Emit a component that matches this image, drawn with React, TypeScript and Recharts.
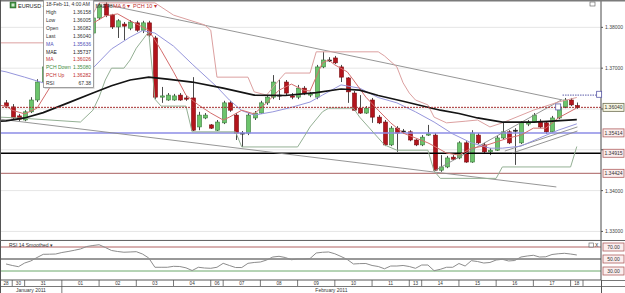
import {
  ComposedChart,
  Bar,
  Line,
  XAxis,
  YAxis,
  CartesianGrid,
  ReferenceLine,
  ReferenceDot,
} from "recharts";

// EURUSD 4H candles, 28 Jan - 18 Feb 2011
const opens = [
  1.3615, 1.3605, 1.3583, 1.3573, 1.3593, 1.3622, 1.3666, 1.37, 1.3688, 1.3725,
  1.3744, 1.3732, 1.3769, 1.3798, 1.3786, 1.3823, 1.3857, 1.383, 1.3801, 1.3808,
  1.3798, 1.3811, 1.3793, 1.3811, 1.3774, 1.3629, 1.3622, 1.3622, 1.3634, 1.3627,
  1.3627, 1.3556, 1.3578, 1.3561, 1.3548, 1.3566, 1.3615, 1.3585, 1.3541, 1.3541,
  1.3578, 1.359, 1.3615, 1.3629, 1.3632, 1.3666, 1.3632, 1.3629, 1.3651, 1.3634,
  1.3629, 1.3703, 1.372, 1.3725, 1.3703, 1.3676, 1.3639, 1.3602, 1.359, 1.3622,
  1.358, 1.3568, 1.3512, 1.3553, 1.3544, 1.3544, 1.3524, 1.3512, 1.3536, 1.3536,
  1.345, 1.3458, 1.3482, 1.348, 1.3517, 1.347, 1.3536, 1.3512, 1.3495, 1.3499,
  1.3529, 1.3544, 1.3548, 1.3517, 1.3563, 1.3568, 1.357, 1.3566, 1.3544, 1.3578,
  1.3605, 1.3622, 1.36082,
];
const highs = [
  1.3622, 1.3612, 1.3588, 1.3597, 1.3629, 1.3673, 1.3713, 1.371, 1.3732, 1.3754,
  1.3752, 1.3779, 1.3808, 1.3806, 1.3833, 1.386, 1.3862, 1.3833, 1.382, 1.3813,
  1.3818, 1.3816, 1.3816, 1.3816, 1.3779, 1.3654, 1.3639, 1.3637, 1.3639, 1.3634,
  1.3678, 1.3593, 1.359, 1.3563, 1.3573, 1.362, 1.362, 1.359, 1.3546, 1.359,
  1.3595, 1.362, 1.3634, 1.3683, 1.3671, 1.3671, 1.3639, 1.3659, 1.3656, 1.3642,
  1.3708, 1.374, 1.3727, 1.373, 1.3708, 1.3678, 1.3644, 1.3634, 1.3607, 1.3627,
  1.3585, 1.3573, 1.3558, 1.3558, 1.3551, 1.3548, 1.3526, 1.3536, 1.3561, 1.3541,
  1.3487, 1.3485, 1.3487, 1.3521, 1.3521, 1.3548, 1.3541, 1.3517, 1.3504, 1.3534,
  1.3568, 1.3548, 1.3553, 1.357, 1.3573, 1.359, 1.3575, 1.357, 1.3583, 1.361,
  1.3627, 1.3627, 1.36158,
];
const lows = [
  1.3602, 1.3575, 1.357, 1.357, 1.359, 1.3617, 1.3659, 1.3681, 1.3683, 1.372,
  1.3725, 1.3727, 1.3764, 1.3781, 1.3781, 1.3818, 1.3825, 1.3796, 1.3774, 1.3769,
  1.3793, 1.3789, 1.3786, 1.3776, 1.3624, 1.3615, 1.362, 1.362, 1.362, 1.362,
  1.3546, 1.3548, 1.3575, 1.3551, 1.3546, 1.3563, 1.3593, 1.3524, 1.3507, 1.3536,
  1.3573, 1.3588, 1.361, 1.3624, 1.3622, 1.3634, 1.3624, 1.3624, 1.3634, 1.3629,
  1.3624, 1.37, 1.3715, 1.371, 1.3666, 1.3615, 1.3595, 1.3588, 1.3588, 1.3566,
  1.3563, 1.3509, 1.3509, 1.3495, 1.3539, 1.3521, 1.3509, 1.3509, 1.3534, 1.3448,
  1.3446, 1.3455, 1.3475, 1.3477, 1.3468, 1.3468, 1.3514, 1.3492, 1.3487, 1.3497,
  1.3526, 1.3514, 1.3463, 1.3514, 1.3558, 1.3566, 1.3553, 1.3539, 1.3541, 1.3575,
  1.3602, 1.3607, 1.36005,
];
const closes = [
  1.3607, 1.3578, 1.3575, 1.3593, 1.3622, 1.3666, 1.3703, 1.3688, 1.3725, 1.3744,
  1.3732, 1.3769, 1.3798, 1.3786, 1.3823, 1.3855, 1.383, 1.3801, 1.3816, 1.3803,
  1.3813, 1.3793, 1.3811, 1.3781, 1.3629, 1.3632, 1.3634, 1.3632, 1.3622, 1.3624,
  1.3548, 1.3585, 1.3585, 1.3553, 1.3568, 1.3615, 1.3597, 1.3541, 1.3539, 1.3585,
  1.359, 1.3615, 1.3629, 1.3666, 1.3634, 1.3639, 1.3629, 1.3651, 1.3639, 1.3637,
  1.3703, 1.372, 1.3718, 1.3713, 1.3678, 1.3642, 1.3597, 1.359, 1.3602, 1.358,
  1.3566, 1.3512, 1.3553, 1.3541, 1.3546, 1.3524, 1.3512, 1.3531, 1.3539, 1.345,
  1.3458, 1.348, 1.3477, 1.3517, 1.347, 1.3541, 1.3517, 1.3495, 1.3499, 1.3529,
  1.3544, 1.3517, 1.3546, 1.3566, 1.3568, 1.3585, 1.3556, 1.3544, 1.3578, 1.3605,
  1.3622, 1.361, 1.3604,
];

// RSI 14 smoothed, one value per candle
const rsiSmoothed = [
  41.7, 39.2, 37.2, 43.3, 46.7, 52.5, 57.8, 58, 58.3, 60.8,
  62.5, 64.5, 66.7, 70.8, 72.5, 73.8, 69.2, 64.2, 62.5, 61.3,
  61.7, 62.2, 58.3, 51.7, 36.2, 36.2, 36.2, 37.8, 37.5, 35.3,
  30.8, 36.2, 35, 34.5, 36.2, 42.8, 39.2, 35.8, 35.8, 42.8,
  44.2, 45, 48.3, 53.3, 54.5, 52.5, 48.8, 50, 50, 50.8,
  60, 61.2, 61.7, 58.7, 54.2, 49.2, 41.7, 42.3, 42.5, 39.2,
  37.5, 33.7, 38.3, 38.3, 39.2, 37.5, 34.5, 40, 40, 30.5,
  32.8, 36.2, 36.2, 42.5, 38.3, 47.2, 45.8, 43.3, 44.2, 48.3,
  49.5, 46.7, 47.5, 53.3, 55, 56.2, 53.3, 53.7, 57.5, 58.7,
  59.5, 58.3, 56.7,
];
const rsiReading = 67.38;

// indicator paths as [candle index, value]
const maSlow: [number, number][] = [
  [-1, 1.3694], [0, 1.3691], [3, 1.3678], [6, 1.3664], [9, 1.3671], [12, 1.3683],
  [14, 1.37], [17, 1.3747], [20, 1.3776], [22, 1.3792], [24, 1.3786], [27, 1.3754],
  [30, 1.371], [34, 1.3654], [36, 1.3622], [38, 1.3596], [40, 1.3585], [43, 1.3593],
  [46, 1.3604], [49, 1.3617], [51, 1.3634], [54, 1.3659], [57, 1.3651], [60, 1.3628],
  [63, 1.3615], [66, 1.3593], [69, 1.3568], [72, 1.3539], [75, 1.3517], [78, 1.3504],
  [80, 1.3504], [83, 1.3509], [86, 1.3529], [89, 1.3548], [92, 1.35636],
];
const maeLine: [number, number][] = [
  [-1, 1.357], [0, 1.3571], [3, 1.3578], [6, 1.3591], [10, 1.3615], [14, 1.3639],
  [17, 1.3657], [20, 1.3671], [23, 1.3678], [26, 1.3673], [30, 1.3666], [35, 1.3651],
  [40, 1.3634], [45, 1.3633], [50, 1.364], [54, 1.3649], [57, 1.3646], [60, 1.3633],
  [64, 1.3619], [67, 1.3608], [70, 1.3597], [73, 1.3589], [76, 1.3578], [80, 1.3568],
  [85, 1.3568], [88, 1.357], [92, 1.35737],
];
const maFast: [number, number][] = [
  [-1, 1.3609], [0, 1.3607], [1, 1.3597], [3, 1.3588], [5, 1.3602], [7, 1.3651],
  [9, 1.37], [11, 1.374], [12, 1.377], [13, 1.3795], [14, 1.381], [16, 1.3828],
  [18, 1.3833], [20, 1.3816], [22, 1.3801], [23, 1.3793], [24, 1.3769], [25, 1.3744],
  [27, 1.3691], [29, 1.3634], [31, 1.361], [33, 1.359], [35, 1.3573], [36, 1.358],
  [38, 1.3597], [40, 1.3588], [42, 1.3615], [44, 1.3646], [46, 1.3661], [48, 1.3646],
  [49, 1.3644], [51, 1.3713], [52, 1.372], [53, 1.3708], [55, 1.3691], [56, 1.3671],
  [58, 1.3629], [60, 1.3597], [62, 1.3566], [64, 1.3541], [66, 1.3529], [68, 1.3517],
  [69, 1.3509], [71, 1.3492], [73, 1.3487], [75, 1.3504], [77, 1.3509], [79, 1.3519],
  [81, 1.3529], [83, 1.3536], [85, 1.3553], [87, 1.3553], [89, 1.3578], [92, 1.36026],
];
const pchUp: [number, number][] = [
  [-1, 1.3762], [10, 1.3762], [11, 1.3779], [12, 1.3808], [14, 1.3833], [15, 1.386],
  [24, 1.386], [27, 1.383], [32, 1.3806], [33, 1.3793], [34, 1.3678], [39, 1.3678],
  [40, 1.3642], [42, 1.3634], [44, 1.3671], [45, 1.3688], [49, 1.3688], [50, 1.374],
  [60, 1.374], [61, 1.373], [63, 1.3703], [64, 1.3664], [65, 1.3639], [66, 1.3622],
  [68, 1.361], [69, 1.358], [71, 1.3566], [74, 1.357], [76, 1.3573], [78, 1.3556],
  [80, 1.3566], [85, 1.3597], [89, 1.3617], [92, 1.36282],
];
const pchDown: [number, number][] = [
  [-1, 1.358], [2, 1.3578], [12, 1.3568], [14, 1.3597], [15, 1.3629], [16, 1.3671],
  [17, 1.37], [19, 1.37], [20, 1.372], [21, 1.3749], [22, 1.3769], [23, 1.3789],
  [24, 1.3624], [25, 1.3607], [29, 1.3607], [30, 1.3544], [37, 1.3544], [38, 1.3507],
  [47, 1.3507], [48, 1.3531], [49, 1.3556], [51, 1.3593], [52, 1.3602], [56, 1.3602],
  [57, 1.358], [61, 1.3512], [63, 1.3499], [68, 1.3499], [69, 1.3448], [70, 1.343],
  [79, 1.343], [80, 1.3458], [91, 1.3458], [92, 1.3508],
];

// hand-drawn trend lines: [x1, price1, x2, price2]
const trendLines: [number, number, number, number][] = [
  [16.3, 1.3855, 89.7, 1.3622],
  [-0.97, 1.3575, 88.7, 1.3409],
  [69, 1.3448, 89.5, 1.3622],
  [80.4, 1.3497, 92.1, 1.3556],
  [81.6, 1.3492, 92.1, 1.3546],
];
const supportLevels = [1.35414, 1.34915, 1.34424];
const alertLevel = 1.3634;
const alertFrom = 89.7;
const alertCandle = 89;

const priceTicks = [1.33, 1.34, 1.35, 1.36, 1.37, 1.38];
const hiddenPriceTicks = [1.35, 1.36];
const rsiLevels = [70, 50, 30];

const dayStarts = [1, 3, 9, 15, 21, 27, 33, 35, 41, 47, 53, 59, 65, 67, 73, 79, 85, 91, 93];
const dayLabels = ["28", "30", "31", "01", "02", "03", "04", "06", "07", "08", "09", "10", "11", "13", "14", "15", "16", "17", "18"];
const monthLabels = ["January 2011", "February 2011"];
const monthStart = 9;

const X_MIN = -0.97;
const X_MAX = 95.9;
const P_MIN = 1.3279;
const P_MAX = 1.3867;

const FONT = '"Liberation Sans", Arial, sans-serif';
const levelStyles = [
  { stroke: "#8c8ce6", width: 1.5 },
  { stroke: "#000000", width: 1.6 },
  { stroke: "#a86060", width: 1 },
];
const rsiLevelColors = ["#b06060", "#333333", "#6aa86a"];

const candles = opens.map((o, i) => ({
  x: i,
  o,
  h: highs[i],
  l: lows[i],
  c: closes[i],
  hl: [lows[i], highs[i]],
}));
const rsiData = rsiSmoothed.map((v, i) => ({ x: i, v }));
const toPts = (arr: [number, number][]) => arr.map(([x, v]) => ({ x, v }));
const last = closes.length - 1;
const lastOf = (arr: [number, number][]) => arr[arr.length - 1][1];
const gridDays = dayStarts.slice(0, -1);

// date strip ticks: separators at day starts, labels at segment midpoints
const dateTickInfo = new Map<number, { kind: string; label?: string }>();
dayStarts.forEach((d) => dateTickInfo.set(d, { kind: "sep" }));
dayLabels.forEach((label, k) => {
  const from = k === 0 ? X_MIN : dayStarts[k - 1];
  dateTickInfo.set((from + dayStarts[k]) / 2, { kind: "day", label });
});
dateTickInfo.set((X_MIN + monthStart) / 2, { kind: "month", label: monthLabels[0] });
dateTickInfo.set((monthStart + X_MAX) / 2, { kind: "month", label: monthLabels[1] });
const dateTicks = [...dateTickInfo.keys()].sort((a, b) => a - b);

const Candle = (props: any) => {
  const { x, y, width, height, payload } = props;
  if (!payload) return null;
  const top = Math.min(y, y + height);
  const bottom = Math.max(y, y + height);
  const { o, h, l, c } = payload;
  const span = h - l || 1e-9;
  const toY = (p: number) => top + ((h - p) / span) * (bottom - top);
  const cx = Math.round(x + width / 2) + 0.5;
  const up = c >= o;
  const yo = toY(o);
  const yc = toY(c);
  const bodyTop = Math.min(yo, yc);
  const bodyH = Math.max(1, Math.abs(yc - yo));
  const doji = Math.abs(yc - yo) < 1.2;
  return (
    <g>
      <line x1={cx} x2={cx} y1={top} y2={bottom} stroke="#4a4a4a" strokeWidth={1} />
      <rect
        x={cx - 2}
        y={bodyTop}
        width={4}
        height={bodyH}
        fill={doji ? "#222" : up ? "#6cc46c" : "#b3141c"}
        stroke={doji ? "#222" : up ? "#3a7a3a" : "#7a0c10"}
        strokeWidth={0.6}
      />
    </g>
  );
};

const AxisTag = (props: any) => {
  const vb = props.viewBox || props;
  const x = vb.x + vb.width + 2;
  const y = vb.y;
  return (
    <g>
      <rect x={x} y={y - 4} width={21} height={8} fill={props.bg} stroke={props.border} strokeWidth={0.8} />
      <text x={x + 10.5} y={y + 2} fontSize={5} textAnchor="middle" fill="#333" fontFamily={FONT}>
        {props.text}
      </text>
    </g>
  );
};

const PriceTick = (props: any) => {
  const { x, y, payload } = props;
  if (hiddenPriceTicks.includes(payload.value)) return <g />;
  return (
    <text x={x} y={y} dy={2} fontSize={5} fill="#444" fontFamily={FONT}>
      {Number(payload.value).toFixed(5)}
    </text>
  );
};

const DateTick = (props: any) => {
  const { x, y, payload } = props;
  const info = dateTickInfo.get(payload.value);
  if (!info) return <g />;
  if (info.kind === "sep") {
    const h = payload.value === monthStart ? 13 : 6;
    return <line x1={x} x2={x} y1={y} y2={y + h} stroke="#555" strokeWidth={0.8} />;
  }
  const isMonth = info.kind === "month";
  return (
    <text
      x={x}
      y={y + (isMonth ? 11.8 : 5)}
      fontSize={isMonth ? 5 : 4.6}
      textAnchor="middle"
      fill="#333"
      fontFamily={FONT}
    >
      {info.label}
    </text>
  );
};

const AlertMark = (props: any) => {
  const { cx, cy } = props;
  return <rect x={cx - 2.5} y={cy - 3} width={5} height={6} fill="#fff" stroke="#5a5aa8" strokeWidth={0.8} />;
};

const infoRows = [
  { label: "High", value: highs[last].toFixed(5), color: "#333" },
  { label: "Low", value: lows[last].toFixed(5), color: "#333" },
  { label: "Open", value: opens[last].toFixed(5), color: "#333" },
  { label: "Last", value: closes[last].toFixed(5), color: "#333" },
  { label: "MA", value: lastOf(maSlow).toFixed(5), color: "#5050b8" },
  { label: "MAE", value: lastOf(maeLine).toFixed(5), color: "#222" },
  { label: "MA", value: lastOf(maFast).toFixed(5), color: "#c03030" },
  { label: "PCH Down", value: lastOf(pchDown).toFixed(5), color: "#3c8a3c" },
  { label: "PCH Up", value: lastOf(pchUp).toFixed(5), color: "#c03030" },
  { label: "RSI", value: rsiReading.toFixed(2), color: "#333" },
];

const indicatorLines = [
  { data: pchUp, stroke: "#dca0a0", width: 1 },
  { data: pchDown, stroke: "#94b094", width: 1 },
  { data: maSlow, stroke: "#9696dc", width: 1 },
  { data: maFast, stroke: "#d46c6c", width: 1 },
  { data: maeLine, stroke: "#141414", width: 1.7 },
];

export default function App() {
  return (
    <div
      style={{
        position: "absolute",
        left: 0,
        top: 0,
        width: 625,
        height: 293,
        background: "#fff",
        overflow: "hidden",
        fontFamily: FONT,
      }}
    >
      {/* price panel */}
      <div style={{ position: "absolute", left: 0, top: 0 }}>
        <ComposedChart width={625} height={240} data={candles} margin={{ top: 0, right: 0, bottom: 0, left: 0 }}>
          <CartesianGrid stroke="#e6e6e6" />
          <XAxis
            dataKey="x"
            type="number"
            domain={[X_MIN, X_MAX]}
            ticks={gridDays}
            allowDataOverflow
            height={0}
            tick={false}
            tickLine={false}
            axisLine={false}
          />
          <YAxis
            orientation="right"
            width={24}
            type="number"
            domain={[P_MIN, P_MAX]}
            ticks={priceTicks}
            interval={0}
            allowDataOverflow
            axisLine={{ stroke: "#555" }}
            tickLine={{ stroke: "#555" }}
            tickSize={2}
            tick={<PriceTick />}
          />
          {supportLevels.map((v, k) => (
            <ReferenceLine
              key={`lvl-${v}`}
              y={v}
              stroke={levelStyles[k].stroke}
              strokeWidth={levelStyles[k].width}
              label={<AxisTag text={v.toFixed(5)} border="#b06060" bg="#fbeeee" />}
            />
          ))}
          {trendLines.map(([x1, p1, x2, p2], k) => (
            <ReferenceLine
              key={`tl-${k}`}
              segment={[
                { x: x1, y: p1 },
                { x: x2, y: p2 },
              ]}
              stroke="#8a8a8a"
              strokeWidth={0.9}
              ifOverflow="visible"
            />
          ))}
          <ReferenceLine
            segment={[
              { x: alertFrom, y: alertLevel },
              { x: X_MAX, y: alertLevel },
            ]}
            stroke="#5a5aa8"
            strokeDasharray="1.5 1"
            ifOverflow="visible"
          />
          {indicatorLines.map((s, k) => (
            <Line
              key={`ind-${k}`}
              data={toPts(s.data)}
              dataKey="v"
              type="linear"
              stroke={s.stroke}
              strokeWidth={s.width}
              dot={false}
              activeDot={false}
              isAnimationActive={false}
            />
          ))}
          <ReferenceLine
            y={closes[last]}
            stroke="#a83232"
            strokeDasharray="2 1"
            label={<AxisTag text={closes[last].toFixed(5)} border="#6e6e50" bg="#f6f6e2" />}
          />
          <Bar dataKey="hl" barSize={5} shape={<Candle />} isAnimationActive={false} />
          <ReferenceDot x={alertCandle} y={closes[alertCandle]} r={3} shape={<AlertMark />} />
          <ReferenceDot x={X_MAX - 0.3} y={alertLevel + 0.0002} r={3} shape={<AlertMark />} ifOverflow="visible" />
        </ComposedChart>
      </div>

      {/* RSI panel with the date strip as its axis */}
      <div style={{ position: "absolute", left: 0, top: 241 }}>
        <ComposedChart width={625} height={52} data={rsiData} margin={{ top: 0, right: 0, bottom: 0, left: 0 }}>
          <CartesianGrid stroke="#e6e6e6" horizontal={false} />
          <XAxis
            dataKey="x"
            type="number"
            domain={[X_MIN, X_MAX]}
            ticks={gridDays}
            allowDataOverflow
            height={0}
            tick={false}
            tickLine={false}
            axisLine={false}
          />
          <XAxis
            xAxisId="dates"
            dataKey="x"
            type="number"
            domain={[X_MIN, X_MAX]}
            ticks={dateTicks}
            interval={0}
            allowDataOverflow
            height={13}
            tickSize={0}
            tickMargin={0}
            tickLine={false}
            axisLine={{ stroke: "#555" }}
            tick={<DateTick />}
          />
          <YAxis
            orientation="right"
            width={24}
            type="number"
            domain={[15, 80]}
            allowDataOverflow
            axisLine={{ stroke: "#555" }}
            tick={false}
            tickLine={false}
          />
          {rsiLevels.map((v, k) => (
            <ReferenceLine
              key={`rsi-${v}`}
              y={v}
              stroke={rsiLevelColors[k]}
              strokeWidth={1}
              label={<AxisTag text={v.toFixed(2)} border="#b06060" bg="#fbeeee" />}
            />
          ))}
          <Line dataKey="v" type="linear" stroke="#8c8c8c" strokeWidth={1} dot={false} activeDot={false} isAnimationActive={false} />
        </ComposedChart>
      </div>

      {/* frame, legend and data window */}
      <svg width={625} height={293} style={{ position: "absolute", left: 0, top: 0, pointerEvents: "none" }} fontFamily={FONT}>
        <rect x={0} y={0} width={625} height={1.5} fill="#7a7a7a" />
        <line x1={0.5} y1={0} x2={0.5} y2={293} stroke="#555" />
        <line x1={0} y1={240.5} x2={625} y2={240.5} stroke="#666" />
        <line x1={601} y1={280.5} x2={625} y2={280.5} stroke="#555" strokeWidth={0.8} />
        <line x1={0} y1={286.5} x2={625} y2={286.5} stroke="#555" strokeWidth={0.8} />
        <line x1={601.5} y1={280} x2={601.5} y2={293} stroke="#555" />

        <rect x={10} y={2} width={6} height={6} fill="#3f8f3f" stroke="#2a5f2a" strokeWidth={0.5} />
        <rect x={11.5} y={3.5} width={3} height={3} fill="#cfe9cf" />
        <text x={18} y={7.5} fontSize={5.5} fill="#222">EURUSD 4H</text>
        <text x={95.5} y={7.5} fontSize={4.8} fill="#333">MAE 48</text>
        <text x={113} y={7.5} fontSize={5.5} fill="#c03030">MA 6 ▾</text>
        <text x={133} y={7.5} fontSize={5.5} fill="#c03030">PCH 10 ▾</text>
        <rect x={590} y={2} width={5} height={4} fill="#fff" stroke="#555" strokeWidth={0.6} />

        <rect x={44.5} y={1} width={50} height={88} fill="#9a9a9a" opacity={0.35} />
        <rect x={43.5} y={0} width={50} height={87.5} fill="#fff" stroke="#8a8a8a" strokeWidth={0.8} />
        <text x={46} y={6} fontSize={5} fill="#333">18-Feb-11, 4:00 AM</text>
        {infoRows.map((r, k) => (
          <g key={`info-${k}`}>
            <text x={46} y={14 + k * 7.9} fontSize={5} fill={r.color}>
              {r.label}
            </text>
            <text x={91} y={14 + k * 7.9} fontSize={5} fill={r.color} textAnchor="end">
              {r.value}
            </text>
          </g>
        ))}

        <text x={9} y={247} fontSize={5} fill="#333">RSI 14 Smoothed ▾</text>
        <rect x={589} y={243} width={4.5} height={4} fill="#fff" stroke="#555" strokeWidth={0.6} />
        <text x={595} y={247} fontSize={5} fill="#333">X</text>
      </svg>
    </div>
  );
}
